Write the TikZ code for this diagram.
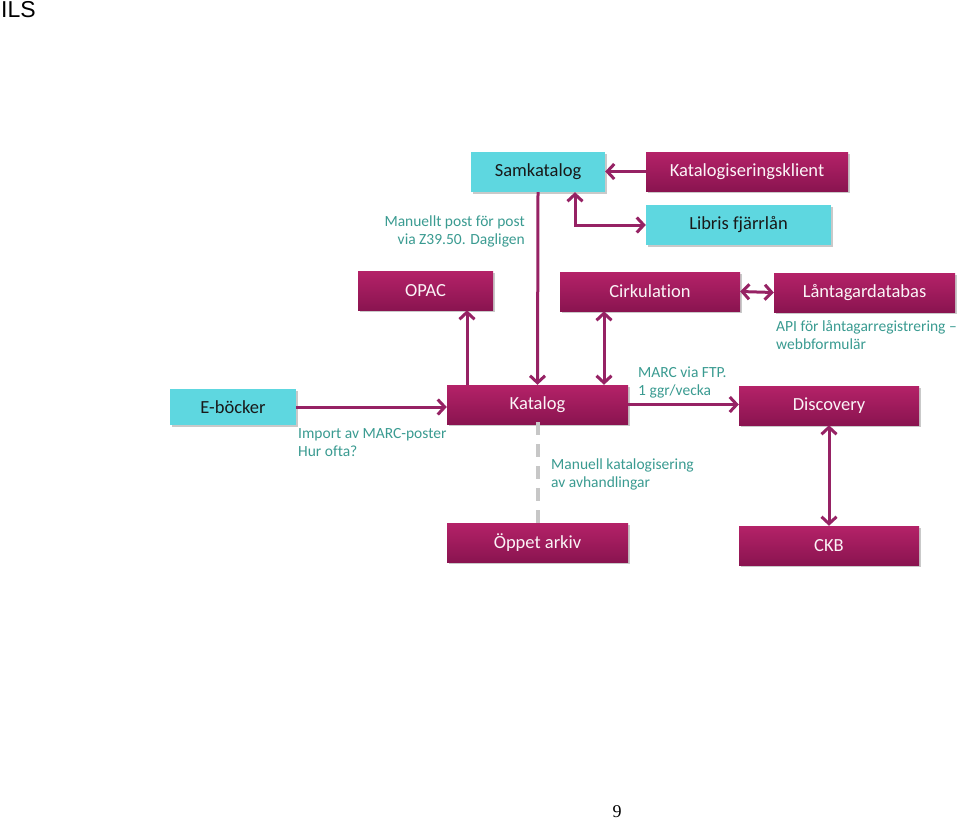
\documentclass[tikz,border=0pt]{standalone}
\usepackage{fontspec}
\setmainfont[Ligatures=NoCommon]{Carlito}
\newfontfamily\ilsfont{Liberation Sans}
\newfontfamily\numfont{Liberation Serif}
\usetikzlibrary{arrows.meta,shadows}
\definecolor{magtop}{RGB}{180,34,104}
\definecolor{magbot}{RGB}{138,20,80}
\definecolor{cyanbox}{RGB}{94,215,224}
\definecolor{arrcol}{RGB}{150,34,100}
\definecolor{lab}{RGB}{58,155,145}
\tikzset{
  basebox/.style={draw=none, inner sep=0pt, font=\fontsize{18.5}{22}\selectfont,
    drop shadow={shadow xshift=1.5pt, shadow yshift=-2pt, opacity=0.35, fill=black!60}},
  mbox/.style={basebox, top color=magtop, bottom color=magbot, text=white!95!magtop},
  cbox/.style={basebox, fill=cyanbox, text=black!90},
  arr/.style={draw=arrcol, line width=3pt, -{Straight Barb[length=7pt,width=15pt]}},
  darr/.style={draw=arrcol, line width=3pt, {Straight Barb[length=7pt,width=15pt]}-{Straight Barb[length=7pt,width=15pt]}},
  lbl/.style={text=lab, font=\fontsize{15.5}{18}\selectfont, inner sep=0pt, align=left},
}
\begin{document}
\begin{tikzpicture}[x=1pt,y=-1pt]
\useasboundingbox[fill=white] (0,0) rectangle (960,820);
\node[anchor=north west, inner sep=0pt, font=\ilsfont\fontsize{23}{26}\selectfont] (ils) at (1,1) {ILS};
\node[font=\numfont\fontsize{18}{20}\selectfont, inner sep=0pt] (pg) at (617,812) {9};

\node[cbox, minimum width=134pt, minimum height=40pt] (sam) at (538,172) {Samkatalog};
\node[mbox, minimum width=202pt, minimum height=39pt] (kkl) at (747,171.5) {Katalogiseringsklient};
\node[cbox, minimum width=185pt, minimum height=40pt] (lib) at (738.5,225) {Libris fjärrlån};
\node[mbox, minimum width=135pt, minimum height=39pt] (opac) at (425.5,290.5) {OPAC};
\node[mbox, minimum width=180pt, minimum height=39pt] (cirk) at (650,291.5) {Cirkulation};
\node[mbox, minimum width=181pt, minimum height=39pt] (lant) at (864.5,292.5) {Låntagardatabas};
\node[cbox, minimum width=126pt, minimum height=36pt] (ebok) at (233,407) {E-böcker};
\node[mbox, minimum width=181pt, minimum height=39pt] (kat) at (537.5,404.5) {Katalog};
\node[mbox, minimum width=180pt, minimum height=39pt] (disc) at (829,405.5) {Discovery};
\node[mbox, minimum width=181pt, minimum height=39pt] (oppet) at (537.5,542.5) {Öppet arkiv};
\node[mbox, minimum width=180pt, minimum height=39pt] (ckb) at (829,545.5) {CKB};

\coordinate (xs) at (575,0);
\coordinate (xo) at (467,0);
\coordinate (xc) at (604,0);

\draw[arr] (kkl.west) -- (sam.east |- kkl.west);
\draw[darr] (sam.south -| xs) |- (lib.west);
\draw[arr] (sam.south) -- (kat.north);
\draw[arr] (kat.north -| xo) -- (opac.south -| xo);
\draw[darr] (kat.north -| xc) -- (cirk.south -| xc);
\draw[darr] (cirk.east) -- (lant.west);
\draw[arr] (ebok.east) -- (ebok.east -| kat.west);
\draw[arr] (kat.east) -- (kat.east -| disc.west);
\draw[darr] (disc.south) -- (ckb.north);
\draw[draw=black!22, line width=4pt, dash pattern=on 13pt off 9pt] ([yshift=2pt]kat.south) -- (oppet.north);

\node[lbl, align=right, anchor=north east] (l1) at (525,216) {Manuellt post för post\\via Z39.50. Dagligen};
\node[lbl, anchor=north west] (l2) at (298,428) {Import av MARC-poster\\Hur ofta?};
\node[lbl, anchor=north west] (l3) at (638,367) {MARC via FTP.\\1 ggr/vecka};
\node[lbl, anchor=north west] (l4) at (776,320) {API för låntagarregistrering –\\webbformulär};
\node[lbl, anchor=north west] (l5) at (551,459) {Manuell katalogisering\\av avhandlingar};
\end{tikzpicture}
\end{document}
